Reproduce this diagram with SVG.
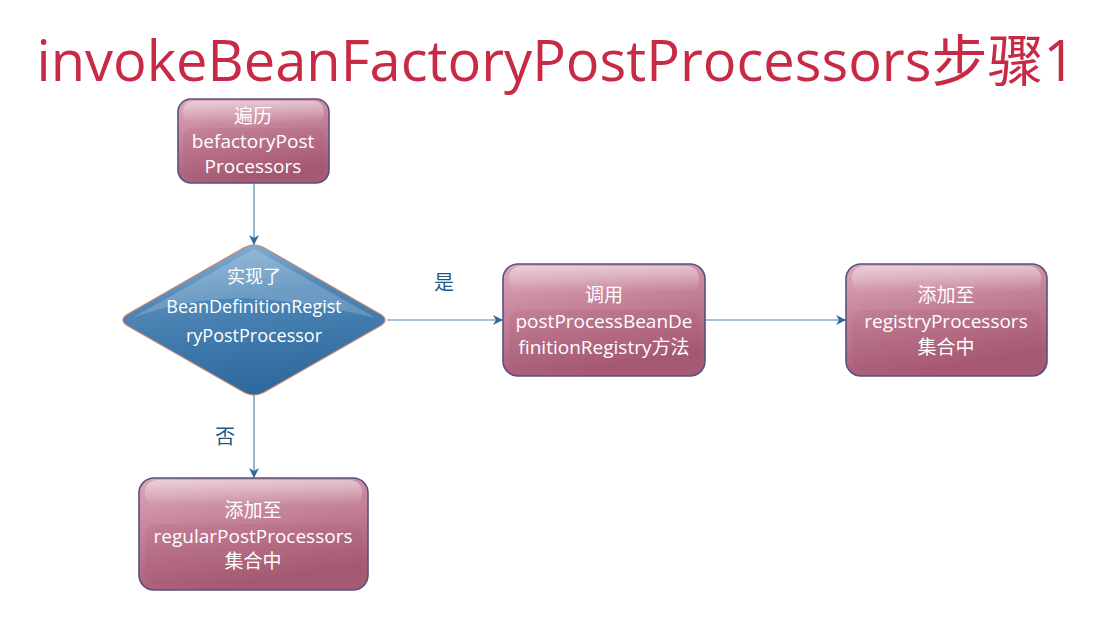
<svg xmlns="http://www.w3.org/2000/svg" width="1112" height="625" viewBox="0 0 1112 625">
<defs>
<linearGradient id="gBox" x1="0" y1="0" x2="0.3" y2="1">
<stop offset="0" stop-color="#dcaabb"/>
<stop offset="0.45" stop-color="#c58399"/>
<stop offset="1" stop-color="#a65a73"/>
</linearGradient>
<linearGradient id="gHi" x1="0" y1="0" x2="0" y2="1">
<stop offset="0" stop-color="#ffffff" stop-opacity="0.45"/>
<stop offset="1" stop-color="#ffffff" stop-opacity="0"/>
</linearGradient>
<linearGradient id="gDia" x1="0" y1="0" x2="0.2" y2="1">
<stop offset="0" stop-color="#8fb6d8"/>
<stop offset="0.4" stop-color="#4f88b8"/>
<stop offset="1" stop-color="#2f6a9e"/>
</linearGradient>
<marker id="arr" viewBox="0 0 10 10" refX="10" refY="5" markerWidth="10" markerHeight="10" markerUnits="userSpaceOnUse" orient="auto">
<path d="M0,0 L10,5 L0,10 L3,5 z" fill="#2c6a9a"/>
</marker>
</defs>
<style>
.box{fill:url(#gBox);stroke:#5a4f80;stroke-width:1.6}
.hi{fill:url(#gHi)}
.mid{fill:#9a4a66;opacity:0.12}
.dia{fill:url(#gDia);stroke:#c7866f;stroke-width:1.2}
.t{font-family:"Open Sans","Noto Sans","Noto Sans CJK SC",sans-serif;font-size:19px;fill:#ffffff;text-anchor:middle}
.td{font-family:"Open Sans","Noto Sans","Noto Sans CJK SC",sans-serif;font-size:18px;fill:#ffffff;text-anchor:middle}
.lbl{font-family:"Noto Sans CJK SC","Noto Sans",sans-serif;font-size:20px;fill:#1f5a85;text-anchor:middle}
.c{fill:none;stroke:#4a86b2;stroke-width:1.2}
</style>
<rect width="1112" height="625" fill="#ffffff"/>
<text x="556" y="81" text-anchor="middle" font-family="'Open Sans','Noto Sans','Noto Sans CJK SC',sans-serif" font-size="56" fill="#c82a45" textLength="1039" lengthAdjust="spacingAndGlyphs">invokeBeanFactoryPostProcessors步骤1</text>

<g id="connectors">
<path class="c" d="M254,183 L254,245" marker-end="url(#arr)"/>
<path class="c" d="M387,320 L503,320" marker-end="url(#arr)"/>
<path class="c" d="M705,320 L846,320" marker-end="url(#arr)"/>
<path class="c" d="M254,395 L254,478" marker-end="url(#arr)"/>
<text class="lbl" x="444" y="290">是</text>
<text class="lbl" x="225" y="444">否</text>
</g>

<g id="n1">
<rect class="box" x="178" y="99" width="151" height="84" rx="13"/>
<rect class="hi" x="183" y="101" width="141" height="22" rx="10"/>
<rect class="mid" x="183" y="128" width="141" height="50" rx="10"/>
<text class="t" x="253" y="123">遍历</text>
<text class="t" x="253" y="148">befactoryPost</text>
<text class="t" x="253" y="173">Processors</text>
</g>

<g id="n2">
<path class="dia" d="M254,245 Q260,245 268,250 L380,314 Q390,320 380,326 L268,390 Q260,395 254,395 Q248,395 240,390 L128,326 Q118,320 128,314 L240,250 Q248,245 254,245 Z"/>
<path d="M254,249 L376,318 Q300,300 240,298 Q180,300 132,318 Z" fill="#ffffff" opacity="0.18"/>
<text class="td" x="254" y="283">实现了</text>
<text class="td" x="254" y="313">BeanDefinitionRegist</text>
<text class="td" x="254" y="342">ryPostProcessor</text>
</g>

<g id="n3">
<rect class="box" x="503" y="264" width="202" height="112" rx="15"/>
<rect class="hi" x="509" y="266" width="190" height="26" rx="12"/>
<rect class="mid" x="509" y="310" width="190" height="60" rx="12"/>
<text class="t" x="604" y="302">调用</text>
<text class="t" x="604" y="328">postProcessBeanDe</text>
<text class="t" x="604" y="354">finitionRegistry方法</text>
</g>

<g id="n4">
<rect class="box" x="846" y="264" width="201" height="112" rx="15"/>
<rect class="hi" x="852" y="266" width="189" height="26" rx="12"/>
<rect class="mid" x="852" y="310" width="189" height="60" rx="12"/>
<text class="t" x="946" y="302">添加至</text>
<text class="t" x="946" y="328">registryProcessors</text>
<text class="t" x="946" y="354">集合中</text>
</g>

<g id="n5">
<rect class="box" x="139" y="478" width="229" height="112" rx="15"/>
<rect class="hi" x="145" y="480" width="217" height="26" rx="12"/>
<rect class="mid" x="145" y="524" width="217" height="60" rx="12"/>
<text class="t" x="253" y="517">添加至</text>
<text class="t" x="253" y="543">regularPostProcessors</text>
<text class="t" x="253" y="568">集合中</text>
</g>
</svg>
